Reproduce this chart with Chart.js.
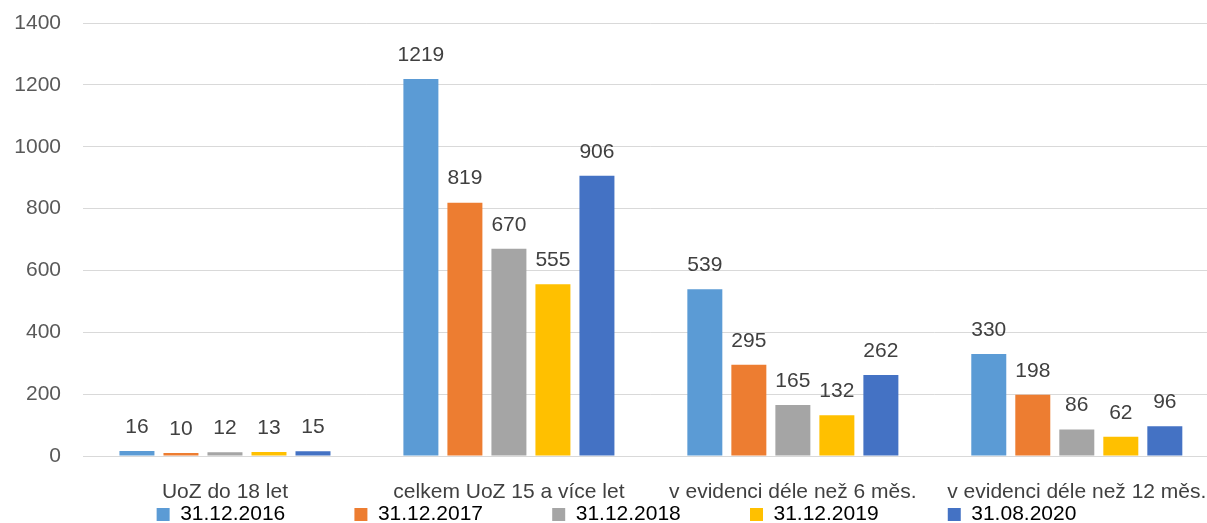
<!DOCTYPE html>
<html lang="cs">
<head>
    <meta charset="UTF-8">
    <title>UoZ</title>
    <style>
        html, body {
            margin: 0;
            padding: 0;
            overflow: hidden;
            background: #fff;
        }
        canvas {
            display: block;
        }
    </style>
</head>
<body>
    <canvas id="chart" width="1232" height="535"></canvas>

    <script src="https://cdn.jsdelivr.net/npm/chart.js"></script>
    <script>
        // data
        const categories = ['UoZ do 18 let', 'celkem UoZ 15 a více let', 'v evidenci déle než 6 měs.', 'v evidenci déle než 12 měs.'];
        const seriesNames = ['31.12.2016', '31.12.2017', '31.12.2018', '31.12.2019', '31.08.2020'];
        const v2016 = [16, 1219, 539, 330];
        const v2017 = [10, 819, 295, 198];
        const v2018 = [12, 670, 165, 86];
        const v2019 = [13, 555, 132, 62];
        const v2020 = [15, 906, 262, 96];
        const yTicks = [0, 200, 400, 600, 800, 1000, 1200, 1400];

        const colors = ['#5B9BD5', '#ED7D31', '#A5A5A5', '#FFC000', '#4472C4'];
        const allValues = [v2016, v2017, v2018, v2019, v2020];
        const FONT = "'Liberation Sans', Arial, sans-serif";

        // hodnoty nad sloupci
        const valueLabels = {
            id: 'valueLabels',
            afterDatasetsDraw(chart) {
                const ctx = chart.ctx;
                ctx.save();
                ctx.font = '21px ' + FONT;
                ctx.fillStyle = '#404040';
                ctx.textAlign = 'center';
                ctx.textBaseline = 'middle';
                chart.data.datasets.forEach((ds, i) => {
                    chart.getDatasetMeta(i).data.forEach((bar, j) => {
                        ctx.fillText(ds.data[j], bar.x, bar.y - 24);
                    });
                });
                ctx.restore();
            }
        };

        const pad = '           ';

        new Chart(document.getElementById('chart'), {
            type: 'bar',
            data: {
                labels: categories,
                datasets: seriesNames.map((name, i) => ({
                    label: name,
                    data: allValues[i],
                    backgroundColor: colors[i],
                    categoryPercentage: 0.775,
                    barPercentage: 0.795
                }))
            },
            options: {
                responsive: false,
                animation: false,
                layout: { padding: { left: 14, right: 13, top: 0, bottom: 0 } },
                plugins: {
                    tooltip: { enabled: false },
                    legend: {
                        position: 'bottom',
                        labels: {
                            boxWidth: 13,
                            boxHeight: 13,
                            padding: 5,
                            color: '#595959',
                            font: { family: FONT, size: 21 },
                            generateLabels(chart) {
                                return chart.data.datasets.map((ds, i) => ({
                                    text: ds.label + (i < chart.data.datasets.length - 1 ? pad : ''),
                                    fillStyle: ds.backgroundColor,
                                    strokeStyle: ds.backgroundColor,
                                    lineWidth: 0,
                                    datasetIndex: i
                                }));
                            }
                        }
                    }
                },
                scales: {
                    x: {
                        grid: { display: false, drawTicks: false },
                        border: { color: '#D9D9D9' },
                        ticks: {
                            color: '#404040',
                            padding: 24,
                            maxRotation: 0,
                            autoSkip: false,
                            font: { family: FONT, size: 21 }
                        },
                        afterFit(axis) {
                            axis.height = 43;
                        }
                    },
                    y: {
                        min: 0,
                        max: yTicks[yTicks.length - 1],
                        afterBuildTicks(axis) {
                            axis.ticks = yTicks.map(v => ({ value: v }));
                        },
                        afterFit(axis) {
                            axis.width = 69;
                            axis.paddingTop = 23;
                        },
                        grid: { color: '#D9D9D9', drawTicks: false },
                        border: { display: false },
                        ticks: {
                            color: '#595959',
                            padding: 22,
                            font: { family: FONT, size: 21 },
                            callback: v => String(v)
                        }
                    }
                }
            },
            plugins: [valueLabels]
        });
    </script>
</body>
</html>
